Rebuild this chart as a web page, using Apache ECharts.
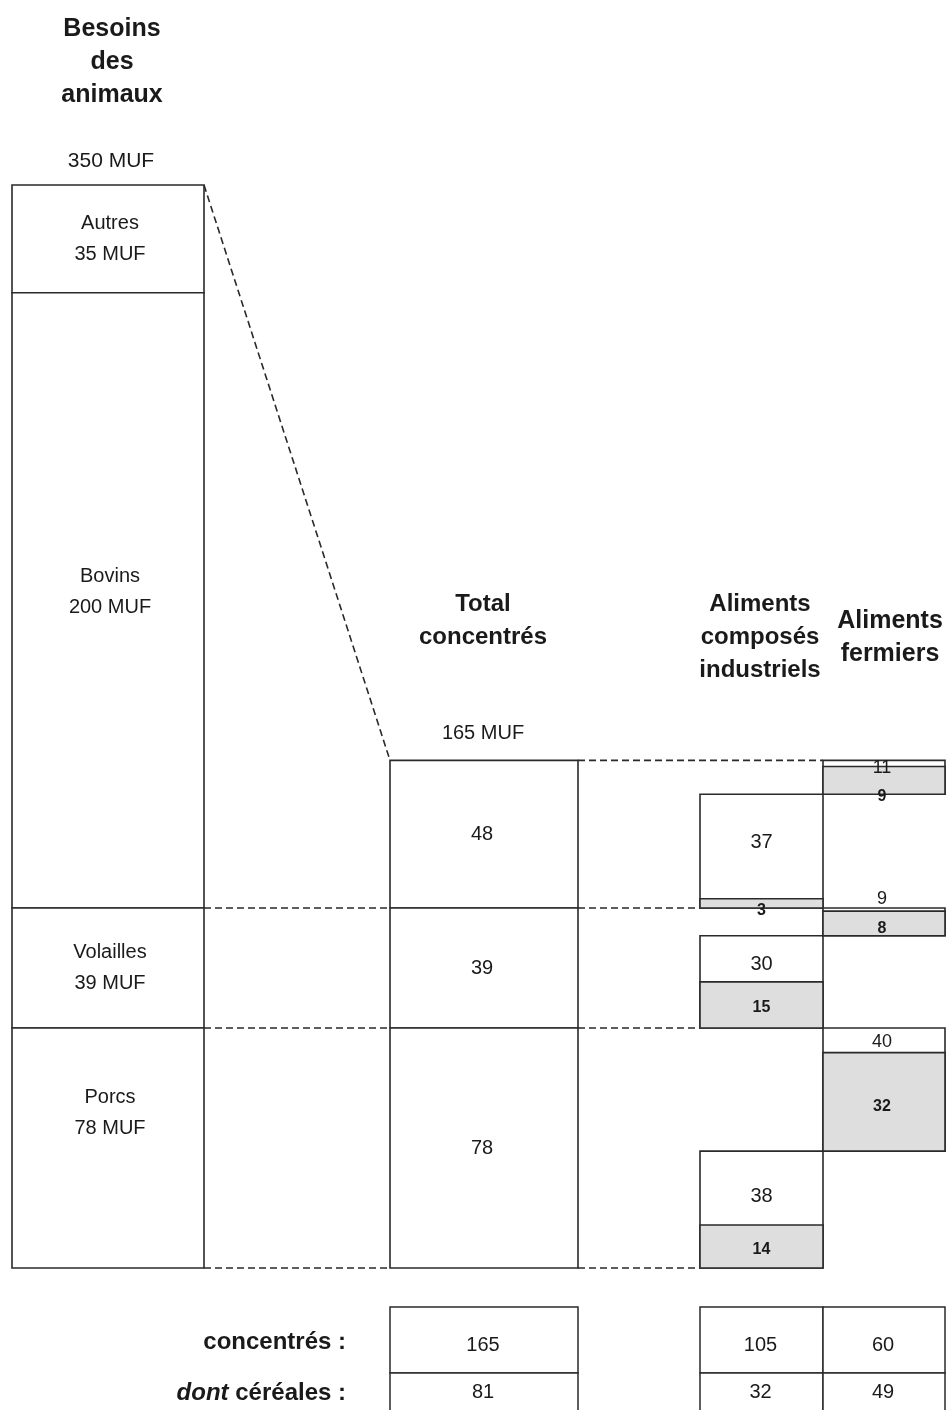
<!DOCTYPE html>
<html><head><meta charset="utf-8">
<script src="https://cdn.jsdelivr.net/npm/echarts@6/dist/echarts.min.js"></script>
<style>html,body{margin:0;padding:0;background:#fff}#chart{width:950px;height:1410px}</style>
</head><body><div id="chart"></div>
<script>
// ---------------- DATA ----------------
const besoinsCategories = ['Autres', 'Bovins', 'Volailles', 'Porcs'];
const besoinsMUF = [35, 200, 39, 78];
const besoinsTotalLabel = 350;
const concSpecies = ['Bovins', 'Volailles', 'Porcs'];
const totalConcentres = [48, 39, 78];
const totalConcentresLabel = 165;
const composesIndustriels = [37, 30, 38];
const composesCereales = [3, 15, 14];
const alimentsFermiers = [11, 9, 40];
const fermiersCereales = [9, 8, 32];
const tableRowLabels = ['concentrés :', 'céréales :'];
const tableConcentres = [165, 105, 60];
const tableCereales = [81, 32, 49];
const columnTitles = ['Besoins\ndes\nanimaux', 'Total\nconcentrés', 'Aliments\ncomposés\nindustriels', 'Aliments\nfermiers'];

// ---------------- LAYOUT / STYLE ----------------
const FONT = '"Liberation Sans", Arial, sans-serif';
const INK = '#1a1a1a';
const LINE = '#2a2a2a';
const GRAY = '#dedede';
const COL = { besoins: [12, 204], total: [390, 578], comp: [700, 823], ferm: [823, 945] };
const mid = c => (c[0] + c[1]) / 2;
const besoinsLabelDy = [0, -8, 0, -35];
const compTotalDy = [-4, 6, 8];
const compCerMode = ['bottom', 'gray', 'gray'];
const fermTotalMode = ['topIn', 'above', 'white'];
const fermCerMode = ['bottom', 'gray', 'gray'];

// ---------------- GEOMETRY FROM DATA ----------------
const yMax = besoinsMUF.reduce((a, b) => a + b, 0);
const rects = [], dashes = [], labels = [];

// besoins column (stacked bottom-up: last category at bottom)
let acc = 0;
const bandB = [];
for (let i = besoinsCategories.length - 1; i >= 0; i--) {
  bandB[i] = [acc, acc + besoinsMUF[i]];
  acc += besoinsMUF[i];
}
besoinsCategories.forEach((c, i) => {
  rects.push({ x0: COL.besoins[0], x1: COL.besoins[1], y0: bandB[i][0], y1: bandB[i][1], fill: '#fff' });
  labels.push({ x: mid(COL.besoins) + 2, y: (bandB[i][0] + bandB[i][1]) / 2, dy: besoinsLabelDy[i],
    text: c + '\n' + besoinsMUF[i] + ' MUF', size: 20, lh: 31 });
});

// total concentrés column
acc = 0;
const bandT = [];
for (let i = concSpecies.length - 1; i >= 0; i--) {
  bandT[i] = [acc, acc + totalConcentres[i]];
  acc += totalConcentres[i];
}
const totalTop = acc;
concSpecies.forEach((s, i) => {
  rects.push({ x0: COL.total[0], x1: COL.total[1], y0: bandT[i][0], y1: bandT[i][1], fill: '#fff' });
  labels.push({ x: mid(COL.total) - 2, y: (bandT[i][0] + bandT[i][1]) / 2, dy: 0, text: String(totalConcentres[i]), size: 20 });
});

// composés & fermiers
concSpecies.forEach((s, i) => {
  const base = bandT[i][0];
  const cTop = base + composesIndustriels[i];
  const cCer = base + composesCereales[i];
  rects.push({ x0: COL.comp[0], x1: COL.comp[1], y0: base, y1: cTop, fill: '#fff' });
  rects.push({ x0: COL.comp[0], x1: COL.comp[1], y0: base, y1: cCer, fill: GRAY });
  labels.push({ x: mid(COL.comp), y: (cCer + cTop) / 2, dy: compTotalDy[i], text: String(composesIndustriels[i]), size: 20 });
  if (compCerMode[i] === 'bottom') labels.push({ x: mid(COL.comp), y: base, dy: 3, text: String(composesCereales[i]), size: 16, bold: true });
  else labels.push({ x: mid(COL.comp), y: (base + cCer) / 2, dy: 3, text: String(composesCereales[i]), size: 16, bold: true });

  const fBase = cTop;
  const fTop = fBase + alimentsFermiers[i];
  const fCer = fBase + fermiersCereales[i];
  rects.push({ x0: COL.ferm[0], x1: COL.ferm[1], y0: fBase, y1: fTop, fill: '#fff' });
  rects.push({ x0: COL.ferm[0], x1: COL.ferm[1], y0: fBase, y1: fCer, fill: GRAY });
  const fx = mid(COL.ferm) - 2;
  if (fermTotalMode[i] === 'topIn') labels.push({ x: fx, y: fTop, dy: 8, text: String(alimentsFermiers[i]), size: 18 });
  else if (fermTotalMode[i] === 'above') labels.push({ x: fx, y: fTop, dy: -9, text: String(alimentsFermiers[i]), size: 18 });
  else labels.push({ x: fx, y: (fCer + fTop) / 2, dy: 2, text: String(alimentsFermiers[i]), size: 18 });
  if (fermCerMode[i] === 'bottom') labels.push({ x: fx, y: fBase, dy: 2, text: String(fermiersCereales[i]), size: 16, bold: true });
  else labels.push({ x: fx, y: (fBase + fCer) / 2, dy: 5, text: String(fermiersCereales[i]), size: 16, bold: true });
});

// dashed connectors
dashes.push({ x0: COL.besoins[1], y0: yMax, x1: COL.total[0], y1: totalTop });
concSpecies.forEach((s, i) => {
  const y = bandT[i][0];
  dashes.push({ x0: COL.besoins[1], y0: y, x1: COL.total[0], y1: y });
  dashes.push({ x0: COL.total[1], y0: y, x1: COL.comp[0], y1: y });
});
dashes.push({ x0: COL.total[1], y0: totalTop, x1: COL.ferm[0], y1: totalTop });

// ---------------- CHART ----------------
const chart = echarts.init(document.getElementById('chart'), null, { renderer: 'canvas' });
const GRID_TOP = 185, GRID_BOTTOM = 142;

function textEl(x, y, text, size, bold, align) {
  return {
    type: 'text',
    style: { text: text, x: x, y: y, fill: INK, font: (bold ? 'bold ' : '') + size + 'px ' + FONT,
      textAlign: align || 'center', textVerticalAlign: 'middle', align: align || 'center', verticalAlign: 'middle' }
  };
}

// table (below plot)
const T_TOP = 1307, T_MID = 1373, T_BOT = 1442;
const tableGraphics = [];
function box(x0, x1, y0, y1) {
  tableGraphics.push({ type: 'rect', shape: { x: x0, y: y0, width: x1 - x0, height: y1 - y0 },
    style: { fill: '#fff', stroke: LINE, lineWidth: 1.5 } });
}
const tableCols = [COL.total, COL.comp, COL.ferm];
tableCols.forEach((c, j) => {
  box(c[0], c[1], T_TOP, T_MID);
  box(c[0], c[1], T_MID, T_BOT);
  tableGraphics.push(textEl(mid(c) - 1, (T_TOP + T_MID) / 2 + 5, String(tableConcentres[j]), 20));
  tableGraphics.push(textEl(mid(c) - 1, (T_MID + 1410) / 2 + 1, String(tableCereales[j]), 20));
});
tableGraphics.push(textEl(346, 1342, tableRowLabels[0], 24, true, 'right'));
tableGraphics.push({
  type: 'text',
  style: {
    x: 346, y: 1393, text: '{i|dont} ' + tableRowLabels[1], font: 'bold 24px ' + FONT, fill: INK,
    textAlign: 'right', textVerticalAlign: 'middle', align: 'right', verticalAlign: 'middle',
    rich: { i: { font: 'italic bold 24px ' + FONT, fill: INK } }
  }
});

function titleEl(x, y, text, size) {
  return { type: 'text', style: { x: x, y: y, text: text, font: 'bold ' + size + 'px ' + FONT, fill: INK, lineHeight: 33,
    textAlign: 'center', textVerticalAlign: 'middle', align: 'center', verticalAlign: 'middle' } };
}
const titleGraphics = [
  titleEl(112, 62, columnTitles[0], 25),
  titleEl(483, 621, columnTitles[1], 24),
  titleEl(760, 637, columnTitles[2], 24),
  titleEl(890, 638, columnTitles[3], 25),
  textEl(111, 161, besoinsTotalLabel + ' MUF', 21),
  textEl(483, 733, totalConcentresLabel + ' MUF', 20)
];

chart.setOption({
  animation: false,
  backgroundColor: '#fff',
  grid: { left: 0, right: 0, top: GRID_TOP, bottom: GRID_BOTTOM, containLabel: false },
  xAxis: { type: 'value', min: 0, max: 950, show: false },
  yAxis: { type: 'value', min: 0, max: yMax, show: false },
  graphic: titleGraphics.concat(tableGraphics),
  series: [
    {
      type: 'custom', coordinateSystem: 'cartesian2d', clip: false, z: 2,
      data: rects.map(r => [r.x0, r.y0, r.x1, r.y1]),
      renderItem: function (params, api) {
        const r = rects[params.dataIndex];
        const p0 = api.coord([r.x0, r.y1]);
        const p1 = api.coord([r.x1, r.y0]);
        return { type: 'rect', shape: { x: p0[0], y: p0[1], width: p1[0] - p0[0], height: p1[1] - p0[1] },
          style: { fill: r.fill, stroke: LINE, lineWidth: 1.6 } };
      }
    },
    {
      type: 'custom', coordinateSystem: 'cartesian2d', clip: false, z: 3,
      data: dashes.map(d => [d.x0, d.y0, d.x1, d.y1]),
      renderItem: function (params, api) {
        const d = dashes[params.dataIndex];
        const a = api.coord([d.x0, d.y0]);
        const b = api.coord([d.x1, d.y1]);
        return { type: 'line', shape: { x1: a[0], y1: a[1], x2: b[0], y2: b[1] },
          style: { stroke: LINE, lineWidth: 1.6, lineDash: [7, 4] } };
      }
    },
    {
      type: 'custom', coordinateSystem: 'cartesian2d', clip: false, z: 4,
      data: labels.map(l => [l.x, l.y]),
      renderItem: function (params, api) {
        const l = labels[params.dataIndex];
        const p = api.coord([l.x, l.y]);
        return { type: 'text', style: { x: p[0], y: p[1] + l.dy, text: l.text,
          font: (l.bold ? 'bold ' : '') + l.size + 'px ' + FONT, fill: INK, lineHeight: l.lh || l.size + 4,
          textAlign: 'center', textVerticalAlign: 'middle', align: 'center', verticalAlign: 'middle' } };
      }
    }
  ]
});
</script></body></html>
